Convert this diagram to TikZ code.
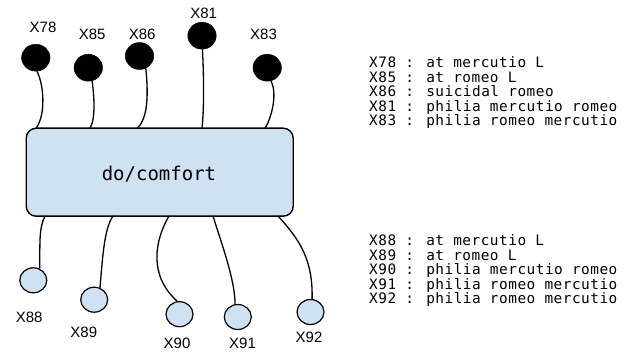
\documentclass[tikz,border=0pt]{standalone}
\usepackage{fontspec}
\setmainfont{Liberation Sans}
\newfontfamily\monof{DejaVu Sans Mono}
\newfontfamily\monolist[LetterSpace=3.5]{DejaVu Sans Mono}
\usetikzlibrary{shapes.geometric}
\definecolor{lblue}{RGB}{207,226,243}
\tikzset{
  blackdot/.style={ellipse, fill=black, draw=black, minimum width=28.5pt, minimum height=27pt, inner sep=0pt},
  bluedot/.style={ellipse, fill=lblue, draw=black, line width=1.2pt, minimum width=27pt, minimum height=25pt, inner sep=0pt},
  wire/.style={draw=black, line width=1.3pt},
  lbl/.style={font=\fontsize{15}{15}\selectfont, inner sep=0pt, anchor=center},
  listtxt/.style={font=\monolist\fontsize{14.4}{15}\selectfont, inner sep=0pt, anchor=base west},
  mainbox/.style={draw=black, fill=lblue, line width=1.4pt, rounded corners=10pt, minimum width=267pt, minimum height=88pt, inner sep=0pt}
}
\begin{document}
\begin{tikzpicture}[x=1pt,y=-1pt]
\useasboundingbox (0,0) rectangle (631,352);
% main box
\node[mainbox] (box) at (159.7,172.2) {};
\node[font=\monof\fontsize{19}{19}\selectfont, inner sep=0pt] (boxtext) at (159,174) {do/comfort};
% top attach points
\coordinate (t78) at (36,128.3);
\coordinate (t85) at (90,128.3);
\coordinate (t86) at (137,128.3);
\coordinate (t81) at (202,128.3);
\coordinate (t83) at (265,128.3);
% bottom attach points
\coordinate (b88) at (45,216);
\coordinate (b89) at (113,216);
\coordinate (b90) at (169,216);
\coordinate (b91) at (213,216);
\coordinate (b92) at (278,216);
% top black dots
\node[blackdot] (c78) at (35.8,57.7) {};
\node[blackdot] (c85) at (88.3,67.7) {};
\node[blackdot] (c86) at (139.5,56) {};
\node[blackdot] (c81) at (202,35.7) {};
\node[blackdot] (c83) at (267.2,67.7) {};
% bottom blue dots
\node[bluedot] (c88) at (33.3,280.3) {};
\node[bluedot] (c89) at (94.2,299.7) {};
\node[bluedot] (c90) at (179.5,314.2) {};
\node[bluedot] (c91) at (237.8,317) {};
\node[bluedot] (c92) at (310.5,312) {};
% top wires
\draw[wire] (c78.-85) .. controls (44,85) and (46,115) .. (t78);
\draw[wire] (c85.-74) .. controls (94,95) and (96,118) .. (t85);
\draw[wire] (c86.-63) .. controls (148,90) and (149,118) .. (t86);
\draw[wire] (c81.-88) .. controls (204,80) and (204,110) .. (t81);
\draw[wire] (c83.-74) .. controls (277,92) and (273,115) .. (t83);
% bottom wires
\draw[wire] (b88) .. controls (39,228) and (40,240) .. (c88.61);
\draw[wire] (b89) .. controls (105,228) and (103,250) .. (c89.64);
\draw[wire] (b90) .. controls (155,240) and (148,275) .. (c90.100);
\draw[wire] (b91) .. controls (222,245) and (235,280) .. (c91.102);
\draw[wire] (b92) .. controls (300,240) and (313,260) .. (c92.83);
% labels
\node[lbl] (l78) at (43,27.7) {X78};
\node[lbl] (l85) at (92.2,34.3) {X85};
\node[lbl] (l86) at (142.2,34.3) {X86};
\node[lbl] (l81) at (203.7,13.7) {X81};
\node[lbl] (l83) at (263.5,34.3) {X83};
\node[lbl] (l88) at (29.2,317.2) {X88};
\node[lbl] (l89) at (83.8,332.5) {X89};
\node[lbl] (l90) at (177,343) {X90};
\node[lbl] (l91) at (242.5,343) {X91};
\node[lbl] (l92) at (309,337.5) {X92};
% legend text
\node[listtxt] (r1) at (369,68) {X78 : at mercutio L};
\node[listtxt] (r2) at (369,82.5) {X85 : at romeo L};
\node[listtxt] (r3) at (369,97) {X86 : suicidal romeo};
\node[listtxt] (r4) at (369,111.5) {X81 : philia mercutio romeo};
\node[listtxt] (r5) at (369,126) {X83 : philia romeo mercutio};
\node[listtxt] (s1) at (369,246) {X88 : at mercutio L};
\node[listtxt] (s2) at (369,260.5) {X89 : at romeo L};
\node[listtxt] (s3) at (369,275) {X90 : philia mercutio romeo};
\node[listtxt] (s4) at (369,289.5) {X91 : philia romeo mercutio};
\node[listtxt] (s5) at (369,304) {X92 : philia romeo mercutio};
\end{tikzpicture}
\end{document}
